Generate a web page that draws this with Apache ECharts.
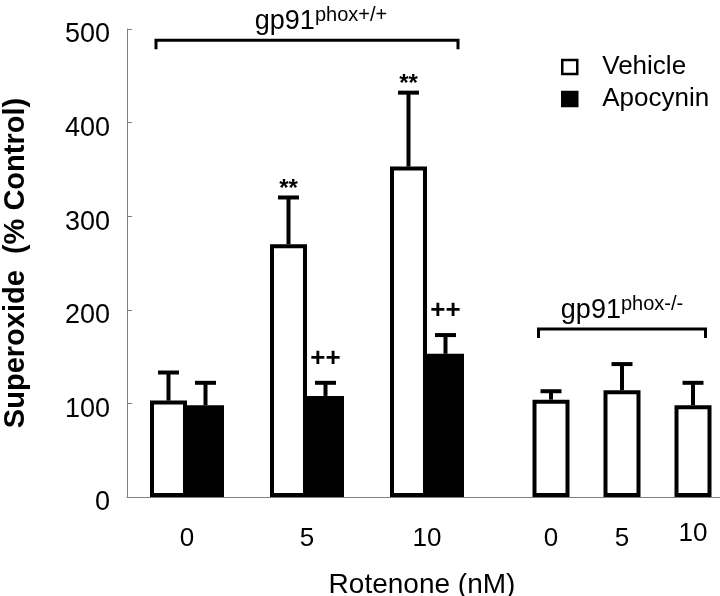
<!DOCTYPE html>
<html>
<head>
<meta charset="utf-8">
<script src="https://cdn.jsdelivr.net/npm/echarts@6/dist/echarts.min.js"></script>
<style>
  html, body { margin: 0; padding: 0; background: #fff; }
  #chart { width: 720px; height: 596px; }
</style>
</head>
<body>
<div id="chart"></div>
<script>
// doses on the x axis (rotenone, nM)
var doses = ['0', '5', '10'];
// gp91phox+/+ mice
var vehicleWT = [103, 270, 353];
var vehicleWTErr = [30, 50, 79];
var apocyninWT = [98, 108, 153];
var apocyninWTErr = [24, 14, 20];
// gp91phox-/- mice, vehicle only
var vehicleKO = [104, 114, 98];
var vehicleKOErr = [9, 28, 24];
// significance marks
var vehicleMarks = ['', '**', '**'];
var apocyninMarks = ['', '++', '++'];
var yTicks = [0, 100, 200, 300, 400, 500];

var font = 'Liberation Sans, Arial, sans-serif';
var barW = 37;
var axisGray = '#808080';

function errData(vals, errs, marks) {
    var out = [];
    for (var i = 0; i < vals.length; i++) {
        out.push([i, vals[i], errs[i], marks ? marks[i] : '']);
    }
    return out;
}

// error bar + mark above it, dx = offset of the bar inside its category
function errRender(dx) {
    return function (params, api) {
        var x = api.value(0), v = api.value(1), e = api.value(2);
        var mark = api.value(3);
        var p0 = api.coord([x, v]);
        var p1 = api.coord([x, v + e]);
        var cx = p0[0] + dx;
        var kids = [
            { type: 'line', shape: { x1: cx, y1: p0[1], x2: cx, y2: p1[1] },
              style: { stroke: '#000', lineWidth: 4 } },
            { type: 'line', shape: { x1: cx - 10.5, y1: p1[1], x2: cx + 10.5, y2: p1[1] },
              style: { stroke: '#000', lineWidth: 4 } }
        ];
        if (mark) {
            var star = mark.indexOf('*') >= 0;
            kids.push({
                type: 'text',
                style: {
                    text: mark, x: cx, y: p1[1] - (star ? 8 : 24),
                    align: 'center', verticalAlign: 'middle',
                    fontFamily: font, fontWeight: 'bold',
                    fontSize: star ? 24 : 26, fill: '#000'
                }
            });
        }
        return { type: 'group', children: kids };
    };
}

// bracket over a group of bars with a gp91 label
function bracketRender(halfSpan, sup, textDx) {
    return function (params, api) {
        var a = api.coord([api.value(0), api.value(2)]);
        var b = api.coord([api.value(1), api.value(2)]);
        var x1 = a[0] - halfSpan + 6, x2 = b[0] + halfSpan - 6, y = a[1];
        return {
            type: 'group',
            children: [
                { type: 'polyline', shape: { points: [[x1, y + 9], [x1, y], [x2, y], [x2, y + 9]] },
                  style: { stroke: '#000', lineWidth: 3, fill: null } },
                { type: 'text',
                  style: {
                      text: '{a|gp91}{b|' + sup + '}',
                      x: (x1 + x2) / 2 + textDx, y: y - 5,
                      align: 'center', verticalAlign: 'bottom',
                      rich: {
                          a: { fontFamily: font, fontSize: 27, lineHeight: 30, verticalAlign: 'bottom', fill: '#000' },
                          b: { fontFamily: font, fontSize: 20, lineHeight: 19, verticalAlign: 'top', fill: '#000' }
                      }
                  } }
            ]
        };
    };
}

var chart = echarts.init(document.getElementById('chart'));

var option = {
    backgroundColor: '#fff',
    animation: false,
    legend: {
        orient: 'vertical',
        left: 556, top: 49,
        itemWidth: 15, itemHeight: 14, itemGap: 6,
        icon: 'rect',
        itemStyle: { borderWidth: 2.5, borderColor: '#000' },
        textStyle: { fontFamily: font, fontSize: 26, color: '#000', padding: [0, 0, 0, 20] },
        data: ['Vehicle', 'Apocynin']
    },
    grid: [
        { left: 127, top: 29, width: 480, bottom: 99, outerBoundsMode: 'none' },
        { left: 515.5, top: 29, width: 213, bottom: 99, outerBoundsMode: 'none' }
    ],
    xAxis: [
        {
            type: 'category', gridIndex: 0,
            data: doses.concat(['']),
            axisLine: { lineStyle: { color: axisGray, width: 1 } },
            axisTick: { show: false },
            axisLabel: {
                margin: 22, formatter: function (v) { return '{n|' + v + '}'; },
                rich: { n: { fontFamily: font, fontSize: 26, color: '#000', lineHeight: 40 } }
            },
            name: 'Rotenone (nM)', nameLocation: 'middle', nameGap: 74,
            nameTextStyle: { fontFamily: font, fontSize: 28, color: '#000', padding: [0, 0, 0, 110] }
        },
        {
            type: 'category', gridIndex: 1,
            data: doses,
            axisLine: { lineStyle: { color: axisGray, width: 1 } },
            axisTick: { show: false },
            axisLabel: {
                margin: 22,
                formatter: function (v) { return v === '10' ? '{h|' + v + '}' : '{n|' + v + '}'; },
                rich: {
                    n: { fontFamily: font, fontSize: 26, color: '#000', lineHeight: 40 },
                    h: { fontFamily: font, fontSize: 26, color: '#000', lineHeight: 29 }
                }
            }
        }
    ],
    yAxis: [
        {
            type: 'value', gridIndex: 0, min: yTicks[0], max: yTicks[yTicks.length - 1], interval: 100,
            axisLine: { show: true, lineStyle: { color: axisGray, width: 1 } },
            axisTick: { show: true, inside: true, length: 5, lineStyle: { color: axisGray } },
            splitLine: { show: false },
            axisLabel: {
                fontFamily: font, fontSize: 27, color: '#000', margin: 17,
                verticalAlign: 'top', lineHeight: 12
            },
            name: 'Superoxide  (% Control)', nameLocation: 'middle', nameGap: 97,
            nameTextStyle: { fontFamily: font, fontSize: 29, fontWeight: 'bold', color: '#000' }
        },
        {
            type: 'value', gridIndex: 1, min: 0, max: 500, interval: 100, show: false
        }
    ],
    series: [
        {
            name: 'Vehicle', type: 'bar', xAxisIndex: 0, yAxisIndex: 0,
            data: vehicleWT, barWidth: barW, barGap: '0%',
            itemStyle: { color: '#fff', borderColor: '#000', borderWidth: 4 }
        },
        {
            name: 'Apocynin', type: 'bar', xAxisIndex: 0, yAxisIndex: 0,
            data: apocyninWT, barWidth: barW, barGap: '0%',
            itemStyle: { color: '#000', borderColor: '#000', borderWidth: 4 }
        },
        {
            name: 'Vehicle', type: 'bar', xAxisIndex: 1, yAxisIndex: 1,
            data: vehicleKO, barWidth: barW,
            itemStyle: { color: '#fff', borderColor: '#000', borderWidth: 4 }
        },
        {
            type: 'custom', xAxisIndex: 0, yAxisIndex: 0, z: 3,
            renderItem: errRender(-barW / 2),
            encode: { x: 0, y: 1 },
            data: errData(vehicleWT, vehicleWTErr, vehicleMarks)
        },
        {
            type: 'custom', xAxisIndex: 0, yAxisIndex: 0, z: 3,
            renderItem: errRender(barW / 2),
            encode: { x: 0, y: 1 },
            data: errData(apocyninWT, apocyninWTErr, apocyninMarks)
        },
        {
            type: 'custom', xAxisIndex: 1, yAxisIndex: 1, z: 3,
            renderItem: errRender(0),
            encode: { x: 0, y: 1 },
            data: errData(vehicleKO, vehicleKOErr)
        },
        {
            type: 'custom', xAxisIndex: 0, yAxisIndex: 0, z: 3, silent: true,
            renderItem: bracketRender(barW, 'phox+/+', 14),
            encode: { x: 0, y: 2 },
            data: [[0, 2, 488]]
        },
        {
            type: 'custom', xAxisIndex: 1, yAxisIndex: 1, z: 3, silent: true,
            renderItem: bracketRender(barW / 2, 'phox-/-', 0),
            encode: { x: 0, y: 2 },
            data: [[0, 2, 179.5]]
        }
    ]
};

chart.setOption(option);
</script>
</body>
</html>
